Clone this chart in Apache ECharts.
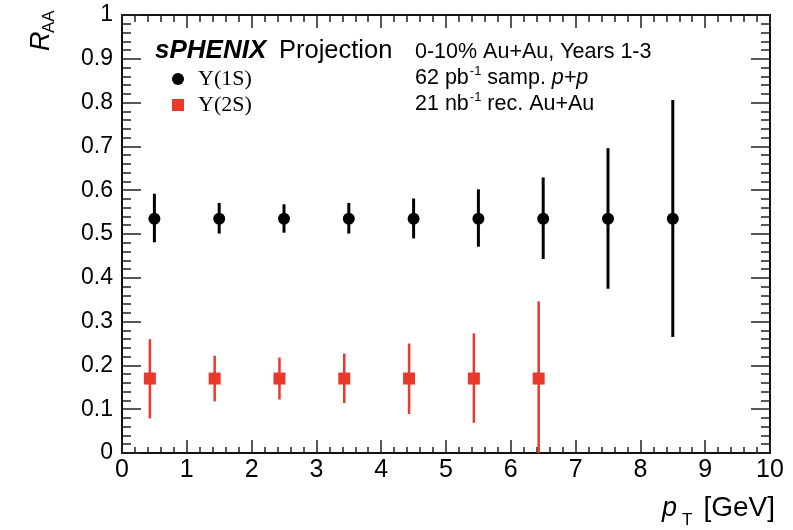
<!DOCTYPE html>
<html>
<head>
<meta charset="utf-8">
<script src="https://cdn.jsdelivr.net/npm/echarts@6/dist/echarts.min.js"></script>
<style>html,body{margin:0;padding:0;background:#fff}#c{width:793px;height:530px}</style>
</head>
<body>
<div id="c"></div>
<script>
// ---- data ----
const ups1S_pt   = [0.5, 1.5, 2.5, 3.5, 4.5, 5.5, 6.5, 7.5, 8.5];
const ups1S_raa  = [0.535, 0.535, 0.535, 0.535, 0.535, 0.535, 0.535, 0.535, 0.535];
const ups1S_low  = [0.481, 0.501, 0.503, 0.501, 0.490, 0.471, 0.443, 0.375, 0.265];
const ups1S_high = [0.592, 0.571, 0.568, 0.571, 0.581, 0.602, 0.629, 0.696, 0.806];

const ups2S_pt   = [0.43, 1.43, 2.43, 3.43, 4.43, 5.43, 6.43];
const ups2S_raa  = [0.17, 0.17, 0.17, 0.17, 0.17, 0.17, 0.17];
const ups2S_low  = [0.079, 0.118, 0.122, 0.114, 0.089, 0.069, 0.0];
const ups2S_high = [0.260, 0.222, 0.218, 0.227, 0.250, 0.273, 0.346];

const seriesNames = ['Υ(1S)', 'Υ(2S)'];
const xTicks = [0, 1, 2, 3, 4, 5, 6, 7, 8, 9, 10];
const yTicks = [0, 0.1, 0.2, 0.3, 0.4, 0.5, 0.6, 0.7, 0.8, 0.9, 1];

const BLACK = '#000000';
const RED = '#e8392b';
const SANS = '"Liberation Sans", Arial, Helvetica, sans-serif';
const SERIF = '"Liberation Serif", "Times New Roman", serif';

const chart = echarts.init(document.getElementById('c'), null, {renderer: 'canvas'});

function pts(xs, ys) { return xs.map((x, i) => [x, ys[i]]); }
function bars(xs, lo, hi) { return xs.map((x, i) => [x, lo[i], hi[i]]); }

function errRender(color, width) {
  return function (params, api) {
    const p1 = api.coord([api.value(0), api.value(1)]);
    const p2 = api.coord([api.value(0), api.value(2)]);
    return {
      type: 'line',
      shape: {x1: p1[0], y1: p1[1], x2: p2[0], y2: p2[1]},
      style: {stroke: color, lineWidth: width}
    };
  };
}

const axisLineStyle = {color: '#111', width: 2};
const tickStyle = {color: '#222', width: 1.5};

const xBase = {
  type: 'value', min: xTicks[0], max: xTicks[xTicks.length - 1], interval: 1,
  axisLine: {show: true, onZero: false, lineStyle: axisLineStyle},
  splitLine: {show: false},
  minorSplitLine: {show: false}
};
const yBase = {
  type: 'value', min: yTicks[0], max: yTicks[yTicks.length - 1], interval: 0.1,
  axisLine: {show: true, onZero: false, lineStyle: axisLineStyle},
  splitLine: {show: false},
  minorSplitLine: {show: false}
};

const option = {
  animation: false,
  backgroundColor: '#ffffff',
  grid: {left: 122, right: 23, top: 15, bottom: 77, containLabel: false, outerBoundsMode: 'none'},
  xAxis: [
    Object.assign({}, xBase, {
      position: 'bottom',
      axisTick: {show: true, inside: true, length: 13, lineStyle: tickStyle},
      minorTick: {show: true, splitNumber: 5, length: 6, lineStyle: tickStyle},
      axisLabel: {show: true, margin: 5, color: '#000', fontSize: 25, fontFamily: SANS,
        formatter: v => String(v)}
    }),
    Object.assign({}, xBase, {
      position: 'top',
      axisTick: {show: true, inside: true, length: 13, lineStyle: tickStyle},
      minorTick: {show: true, splitNumber: 5, length: 7, lineStyle: tickStyle},
      axisLabel: {show: false}
    })
  ],
  yAxis: [
    Object.assign({}, yBase, {
      position: 'left',
      axisTick: {show: true, inside: true, length: 19, lineStyle: tickStyle},
      minorTick: {show: true, splitNumber: 5, length: 9, lineStyle: tickStyle},
      axisLabel: {show: true, margin: 9, color: '#000', fontSize: 23, fontFamily: SANS,
        formatter: v => String(Math.round(v * 10) / 10)}
    }),
    Object.assign({}, yBase, {
      position: 'right',
      axisTick: {show: true, inside: true, length: 19, lineStyle: tickStyle},
      minorTick: {show: true, splitNumber: 5, length: 9, lineStyle: tickStyle},
      axisLabel: {show: false}
    })
  ],
  legend: {
    show: true,
    orient: 'vertical',
    left: 167,
    top: 62,
    itemWidth: 12,
    itemHeight: 12,
    itemGap: 2,
    selectedMode: false,
    textStyle: {fontSize: 22, lineHeight: 24, fontFamily: SERIF, color: '#000', padding: [0, 0, 0, 9]},
    data: [
      {name: seriesNames[0], icon: 'circle'},
      {name: seriesNames[1], icon: 'rect'}
    ]
  },
  series: [
    {
      type: 'custom', name: seriesNames[0] + ' err', xAxisIndex: 0, yAxisIndex: 0,
      renderItem: errRender(BLACK, 3), data: bars(ups1S_pt, ups1S_low, ups1S_high),
      encode: {x: 0, y: [1, 2]}, z: 2, silent: true
    },
    {
      type: 'custom', name: seriesNames[1] + ' err', xAxisIndex: 0, yAxisIndex: 0,
      renderItem: errRender(RED, 2.5), data: bars(ups2S_pt, ups2S_low, ups2S_high),
      encode: {x: 0, y: [1, 2]}, z: 2, silent: true
    },
    {
      type: 'scatter', name: seriesNames[0], xAxisIndex: 0, yAxisIndex: 0,
      symbol: 'circle', symbolSize: 12, itemStyle: {color: BLACK, opacity: 1},
      data: pts(ups1S_pt, ups1S_raa), z: 5
    },
    {
      type: 'scatter', name: seriesNames[1], xAxisIndex: 0, yAxisIndex: 0,
      symbol: 'rect', symbolSize: 12, itemStyle: {color: RED, opacity: 1},
      data: pts(ups2S_pt, ups2S_raa), z: 5
    }
  ],
  graphic: [
    {type: 'text', x: 155, y: 51, style: {text: 'sPHENIX', fontSize: 26, fontWeight: 'bold', fontStyle: 'italic', fontFamily: SANS, fill: '#000', verticalAlign: 'middle', align: 'left'}},
    {type: 'text', x: 279, y: 51, style: {text: 'Projection', fontSize: 25.5, fontFamily: SANS, fill: '#000', verticalAlign: 'middle', align: 'left'}},
    {type: 'text', x: 415, y: 52, style: {text: '0-10% Au+Au, Years 1-3', fontSize: 21.5, fontFamily: SANS, fill: '#000', verticalAlign: 'middle', align: 'left'}},
    {type: 'text', x: 415, y: 77, style: {
      text: '{n|62 pb}{s|-1}{n| samp. }{i|p+p}', verticalAlign: 'middle', align: 'left',
      rich: {
        n: {fontSize: 21.5, fontFamily: SANS, fill: '#000', lineHeight: 24, verticalAlign: 'bottom'},
        s: {fontSize: 13, fontFamily: SANS, fill: '#000', lineHeight: 24, verticalAlign: 'top', padding: [0, 0, 0, 1]},
        i: {fontSize: 21.5, fontFamily: SANS, fontStyle: 'italic', fill: '#000', lineHeight: 24, verticalAlign: 'bottom'}
      }}},
    {type: 'text', x: 415, y: 103, style: {
      text: '{n|21 nb}{s|-1}{n| rec. Au+Au}', verticalAlign: 'middle', align: 'left',
      rich: {
        n: {fontSize: 21.5, fontFamily: SANS, fill: '#000', lineHeight: 24, verticalAlign: 'bottom'},
        s: {fontSize: 13, fontFamily: SANS, fill: '#000', lineHeight: 24, verticalAlign: 'top', padding: [0, 0, 0, 1]}
      }}},
    // y-axis title R_AA (rotated)
    {type: 'group', x: 51, y: 51, rotation: Math.PI / 2, children: [
      {type: 'text', x: 0, y: -10, style: {text: 'R', fontSize: 27, fontStyle: 'italic', fontFamily: SANS, fill: '#000', align: 'left', verticalAlign: 'middle'}},
      {type: 'text', x: 18, y: -2, style: {text: 'AA', fontSize: 17, fontFamily: SANS, fill: '#000', align: 'left', verticalAlign: 'middle'}}
    ]},
    // x-axis title p_T [GeV]
    {type: 'text', x: 662, y: 508, style: {text: 'p', fontSize: 27, fontStyle: 'italic', fontFamily: SANS, fill: '#000', align: 'left', verticalAlign: 'middle'}},
    {type: 'text', x: 682, y: 520, style: {text: 'T', fontSize: 17, fontFamily: SANS, fill: '#000', align: 'left', verticalAlign: 'middle'}},
    {type: 'text', x: 775, y: 508, style: {text: '[GeV]', fontSize: 28, fontFamily: SANS, fill: '#000', align: 'right', verticalAlign: 'middle'}}
  ]
};

chart.setOption(option);
</script>
</body>
</html>
